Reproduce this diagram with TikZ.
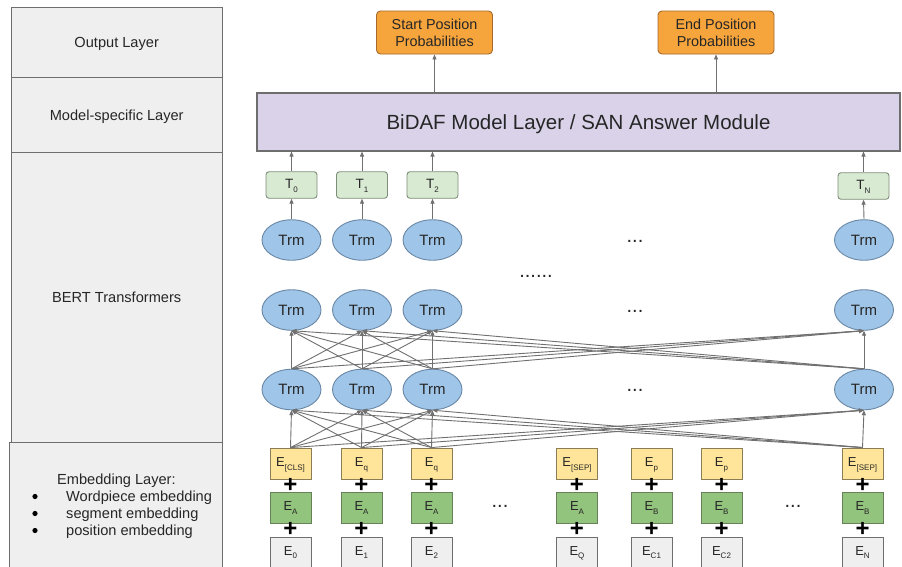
\documentclass[tikz,border=0pt]{standalone}
\usepackage{fontspec}
\setmainfont{Liberation Sans}
\usetikzlibrary{shapes.geometric,arrows.meta}

\definecolor{panelfill}{HTML}{EFEFEF}
\definecolor{framegray}{HTML}{6E6E6E}
\definecolor{purplefill}{HTML}{D9D2E9}
\definecolor{orangefill}{HTML}{F6A43C}
\definecolor{orangeframe}{HTML}{A86A2C}
\definecolor{tfill}{HTML}{D9EAD3}
\definecolor{tframe}{HTML}{7E8C7A}
\definecolor{trmfill}{HTML}{9FC5E8}
\definecolor{trmframe}{HTML}{6A87A6}
\definecolor{yellowfill}{HTML}{FFE599}
\definecolor{yellowframe}{HTML}{8C7D55}
\definecolor{greenfill}{HTML}{93C47D}
\definecolor{greenframe}{HTML}{66805A}
\definecolor{linkgray}{HTML}{707070}
\definecolor{ink}{HTML}{262626}

% label with a lowered small index
\newcommand\idx[2]{#1\raisebox{-3.8pt}{\fontsize{8}{8}\selectfont #2}}

\tikzset{
  panel/.style={draw=framegray, fill=panelfill, line width=0.9pt, inner sep=0pt,
    text=ink, font=\fontsize{14.6}{17}\selectfont, text height=10.5pt, text depth=0pt},
  panelnote/.style={text=ink, font=\fontsize{14.6}{17}\selectfont, inner sep=0pt, anchor=base west},
  modelbox/.style={draw=framegray, fill=purplefill, line width=1.1pt, inner sep=0pt,
    minimum width=643pt, minimum height=58pt, text=ink,
    font=\fontsize{20.5}{24}\selectfont, text height=15pt, text depth=0pt},
  probbox/.style={draw=orangeframe, fill=orangefill, line width=0.9pt, rounded corners=4pt,
    minimum width=116pt, minimum height=43pt, inner sep=0pt, align=center,
    text=ink, font=\fontsize{14.4}{16.7}\selectfont},
  tbox/.style={draw=tframe, fill=tfill, line width=0.9pt, rounded corners=3pt,
    minimum width=51pt, minimum height=26.5pt, inner sep=0pt, text=ink,
    font=\fontsize{13.5}{13.5}\selectfont, text height=9.6pt, text depth=3pt},
  trm/.style={ellipse, draw=trmframe, fill=trmfill, line width=0.9pt,
    minimum width=59pt, minimum height=40.5pt, inner sep=0pt, text=ink,
    font=\fontsize{15}{15}\selectfont, text height=10.7pt, text depth=0pt},
  embbox/.style={draw=#1frame, fill=#1fill, line width=0.9pt,
    minimum width=41pt, minimum height=31pt, inner sep=0pt, text=ink,
    font=\fontsize{13}{13}\selectfont, text height=9.3pt, text depth=3pt},
  posbox/.style={draw=framegray, fill=panelfill, line width=0.9pt,
    minimum width=41pt, minimum height=40pt, anchor=north, inner sep=0pt, text=ink,
    font=\fontsize{13}{13}\selectfont},
  plus/.style={inner sep=0pt, font=\fontsize{24}{24}\bfseries\selectfont, text=black},
  dots/.style={inner sep=0pt, anchor=base, text=ink, font=\fontsize{20}{20}\selectfont},
  link/.style={draw=linkgray, line width=0.9pt,
    -{Triangle[length=5pt,width=4pt]}},
}

\begin{document}
\begin{tikzpicture}[x=1pt,y=-1pt]
\useasboundingbox (0,0) rectangle (902,566);
\clip (0,0) rectangle (902,566);
\fill[white] (0,0) rectangle (902,566);

% ---- layer captions on the left
\node[panel, minimum width=210.5pt, minimum height=70.5pt, anchor=north west]
  (outpanel) at (11,7) {Output Layer};
\node[panel, minimum width=210.5pt, minimum height=75pt, anchor=north west]
  (modelpanel) at (11,77.3) {Model-specific Layer};
\node[panel, minimum width=210.5pt, minimum height=289.7pt, anchor=north west]
  (bertpanel) at (11,152.3) {BERT Transformers};
\node[panel, minimum width=212.5pt, minimum height=140pt, anchor=north west]
  (embpanel) at (9,442) {};
\node[panelnote] (embhead) at (57,484) {Embedding Layer:};
\node[panelnote] (embw) at (66,501.5) {Wordpiece embedding};
\node[panelnote] (embs) at (66,518.5) {segment embedding};
\node[panelnote] (embp) at (66,535.5) {position embedding};
\foreach \b/\yy in {embw/496.5, embs/513.5, embp/530.5}
  \fill[black] (35,\yy) circle (2.6);

% ---- model-specific layer and outputs
\node[modelbox] (model) at (578.5,122) {BiDAF Model Layer / SAN Answer Module};
\node[probbox] (startp) at (434.5,32.5) {Start Position\\Probabilities};
\node[probbox] (endp) at (716,32.5) {End Position\\Probabilities};
\draw[link] (startp.south |- model.north) -- (startp.south);
\draw[link] (endp.south |- model.north) -- (endp.south);

% ---- final hidden states
\node[tbox] (t0) at (291.5,185) {\idx{T}{0}};
\node[tbox] (t1) at (362,185) {\idx{T}{1}};
\node[tbox] (t2) at (432.5,185) {\idx{T}{2}};
\node[tbox] (tN) at (863.5,186) {\idx{T}{N}};
\foreach \t in {t0,t1,t2,tN}
  \draw[link] (\t.north) -- (\t.north |- model.south);

% ---- transformer blocks, three rows
\foreach \r/\yy in {c/240, b/310, a/389.5} {
  \node[trm] (\r0) at (291.5,\yy) {Trm};
  \node[trm] (\r1) at (362,\yy) {Trm};
  \node[trm] (\r2) at (432.5,\yy) {Trm};
  \node[trm] (\r N) at (864,\yy) {Trm};
}
\node[dots] (dc) at (635,242.5) {...};
\node[dots] (dmid) at (536,277.7) {......};
\node[dots] (db) at (635,312.7) {...};
\node[dots] (da) at (635,391) {...};

\foreach \t/\c in {t0/c0,t1/c1,t2/c2,tN/cN}
  \draw[link] (\c.north) -- (\t.south);

% ---- input embeddings
\foreach \n/\xx/\tok/\seg/\pos in {
    e0/290.5/{[CLS]}/A/0, e1/361.5/q/A/1, e2/431.5/q/A/2,
    e3/577/{[SEP]}/A/Q, e4/651.5/p/B/{C1}, e5/721.5/p/B/{C2},
    eN/862.5/{[SEP]}/B/N} {
  \node[embbox=yellow] (\n tok) at (\xx,463.5) {\idx{E}{\tok}};
  \node[plus] (\n p1) at (\xx,485.5) {+};
  \node[embbox=green] (\n seg) at (\xx,507.5) {\idx{E}{\seg}};
  \node[plus] (\n p2) at (\xx,529.5) {+};
  \node[posbox] (\n pos) at (\xx,536.5) {};
  \node[inner sep=0pt, text=ink, font=\fontsize{13}{13}\selectfont,
        text height=9.3pt, text depth=3pt] (\n lab) at (\xx,552) {\idx{E}{\pos}};
}
\node[dots] (de1) at (500,507.5) {...};
\node[dots] (de2) at (793,507.5) {...};

% ---- full connections between rows
\foreach \lo in {e0tok,e1tok,e2tok,eNtok}
  \foreach \up in {a0,a1,a2,aN}
    \draw[link] (\lo.north) -- (\up.south);
\foreach \lo in {a0,a1,a2,aN}
  \foreach \up in {b0,b1,b2,bN}
    \draw[link] (\lo.north) -- (\up.south);
\end{tikzpicture}
\end{document}
